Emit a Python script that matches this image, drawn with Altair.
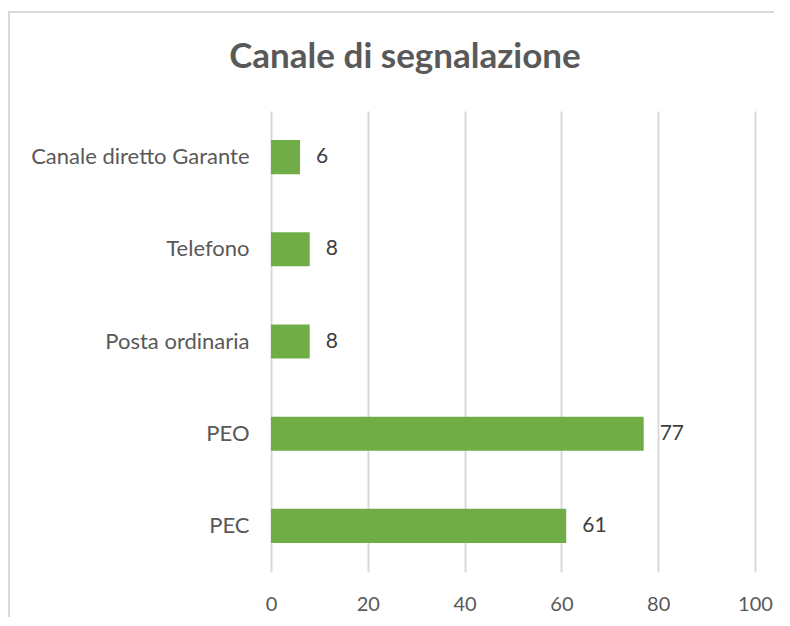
import altair as alt
import pandas as pd

categories = ["Canale diretto Garante", "Telefono", "Posta ordinaria", "PEO", "PEC"]
values = [6, 8, 8, 77, 61]
x_ticks = [0, 20, 40, 60, 80, 100]

df = pd.DataFrame({"canale": categories, "n": values})

FONT = "Lato"
base = alt.Chart(df)

y_enc = alt.Y(
    "canale:N",
    sort=categories,
    scale=alt.Scale(paddingInner=0.63, paddingOuter=0.315),
    axis=alt.Axis(title=None, ticks=False, domain=False, labelPadding=22,
                  labelFontSize=22, labelColor="#595959", labelFont=FONT,
                  labelLimit=400),
)
x_enc = alt.X(
    "n:Q",
    scale=alt.Scale(domain=[0, 100], nice=False),
    axis=alt.Axis(values=x_ticks, title=None, ticks=False, domain=False,
                  grid=True, gridColor="#d9d9d9", gridWidth=2,
                  labelFlush=False,
                  labelPadding=22, labelFontSize=20, labelColor="#595959",
                  labelFont=FONT),
)

bars = base.mark_bar(color="#70AD47").encode(y=y_enc, x=x_enc)
labels = base.mark_text(align="left", baseline="middle", dx=16, fontSize=21,
                        color="#404040", font=FONT).encode(
    y=alt.Y("canale:N", sort=categories), x="n:Q", text="n:Q")

frame_df = pd.DataFrame({"a": [0]})
frame_v = alt.Chart(frame_df).mark_rule(color="#d9d9d9", strokeWidth=2).encode(
    x=alt.value(-262), y=alt.value(-99), y2=alt.value(700))
frame_h = alt.Chart(frame_df).mark_rule(color="#d9d9d9", strokeWidth=2).encode(
    x=alt.value(-263), x2=alt.value(700), y=alt.value(-99))

chart = alt.layer(frame_v, frame_h, bars, labels).properties(
    width=484,
    height=461,
    autosize=alt.AutoSizeParams(type="none"),
    padding={"left": 263, "top": 103, "right": 19, "bottom": 45},
    title=alt.TitleParams("Canale di segnalazione", fontSize=35, font=FONT,
                          fontWeight="bold", color="#595959", anchor="middle",
                          dx=-108, baseline="alphabetic", offset=-92),
).configure_view(stroke=None)

chart.save("out.html", embed_options={"renderer": "svg", "actions": False})
